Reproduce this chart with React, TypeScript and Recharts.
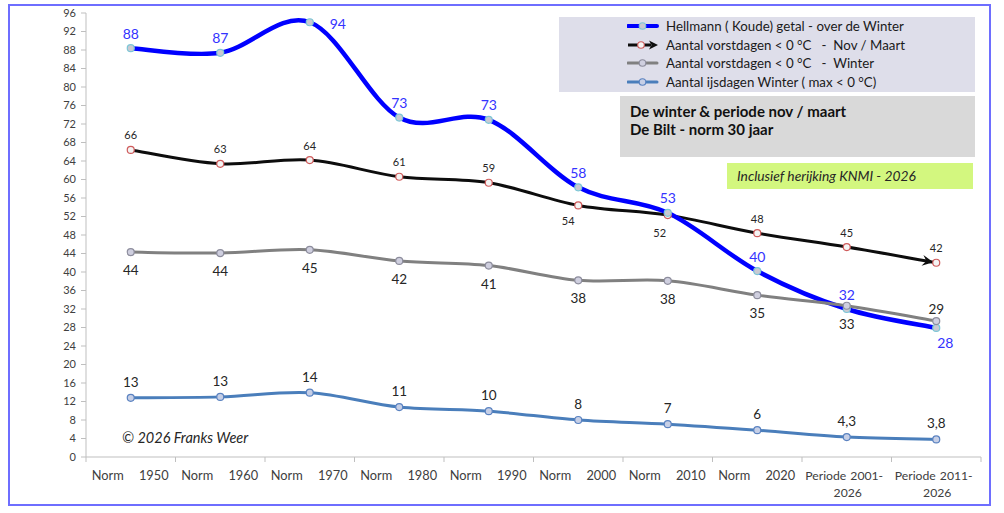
import React from "react";
import { LineChart, Line, XAxis, YAxis, LabelList } from "recharts";

// categorieën (normperiodes) en de vier reeksen
const categories = [
  "Norm 1950",
  "Norm 1960",
  "Norm 1970",
  "Norm 1980",
  "Norm 1990",
  "Norm 2000",
  "Norm 2010",
  "Norm 2020",
  "Periode 2001-2026",
  "Periode 2011-2026",
];
const hellmann = [88.4, 87.4, 94.0, 73.4, 72.9, 58.3, 52.8, 40.2, 32.0, 27.9];
const vorstNovMaart = [66.4, 63.4, 64.2, 60.6, 59.3, 54.4, 52.3, 48.4, 45.4, 42.0];
const vorstWinter = [44.3, 44.1, 44.8, 42.4, 41.4, 38.2, 38.1, 35.0, 32.7, 29.4];
const ijsdagen = [12.8, 13.0, 13.9, 10.8, 9.9, 8.0, 7.1, 5.8, 4.3, 3.8];
const yTicks = [0, 4, 8, 12, 16, 20, 24, 28, 32, 36, 40, 44, 48, 52, 56, 60, 64, 68, 72, 76, 80, 84, 88, 92, 96];

const legendItems = [
  { key: "hellmann", text: "Hellmann ( Koude) getal - over de Winter" },
  { key: "novMaart", text: "Aantal vorstdagen < 0 °C   -  Nov / Maart" },
  { key: "winter", text: "Aantal vorstdagen < 0 °C   -  Winter" },
  { key: "ijs", text: "Aantal ijsdagen Winter ( max < 0 °C)" },
];

const data = categories.map((cat, i) => ({
  cat,
  hellmann: hellmann[i],
  novMaart: vorstNovMaart[i],
  winter: vorstWinter[i],
  ijs: ijsdagen[i],
}));

// layout
const W = 1004;
const H = 513;
const MARGIN = { top: 13, right: 23, bottom: 6, left: 26 };
const YAXIS_W = 60;
const XAXIS_H = 50;
const PLOT_W = W - MARGIN.left - MARGIN.right - YAXIS_W;
const BAND = PLOT_W / categories.length;

const STYLE = {
  hellmann: { line: "#0000ff", width: 4.5, fill: "#c9c9d2", stroke: "#7cc6d6" },
  novMaart: { line: "#0d0d0d", width: 3, fill: "#f4f4f4", stroke: "#cf5b5b" },
  winter: { line: "#808080", width: 3, fill: "#cfcfdf", stroke: "#8d8d9d" },
  ijs: { line: "#4a7ebb", width: 3, fill: "#c6cfe6", stroke: "#5a82c0" },
} as const;

// Excel-achtige gladde lijn (Catmull-Rom als bezier)
function excelCurve(context: any) {
  let pts: [number, number][] = [];
  return {
    areaStart() {},
    areaEnd() {},
    lineStart() {
      pts = [];
    },
    point(x: number, y: number) {
      pts.push([+x, +y]);
    },
    lineEnd() {
      const n = pts.length;
      if (!n) return;
      context.moveTo(pts[0][0], pts[0][1]);
      const t = 1 / 6;
      for (let i = 0; i < n - 1; i++) {
        const p0 = pts[Math.max(i - 1, 0)];
        const p1 = pts[i];
        const p2 = pts[i + 1];
        const p3 = pts[Math.min(i + 2, n - 1)];
        context.bezierCurveTo(
          p1[0] + (p2[0] - p0[0]) * t,
          p1[1] + (p2[1] - p0[1]) * t,
          p2[0] - (p3[0] - p1[0]) * t,
          p2[1] - (p3[1] - p1[1]) * t,
          p2[0],
          p2[1]
        );
      }
    },
  };
}

function XTick(props: any) {
  const { x, y, payload, index } = props;
  const half = BAND / 2;
  const label = String(payload.value);
  const [word, rest] = label.split(" ");
  const txt = { fontSize: 12.8, fill: "#404040", textAnchor: "middle" as const };
  const small = { ...txt, fontSize: 12.2 };
  return (
    <g>
      <line x1={x - half} x2={x - half} y1={y} y2={y + 5} stroke="#bfbfbf" />
      {index === categories.length - 1 && (
        <line x1={x + half} x2={x + half} y1={y} y2={y + 5} stroke="#bfbfbf" />
      )}
      {word === "Norm" ? (
        <>
          <text x={x - 23} y={y + 23} {...txt}>{word}</text>
          <text x={x + 23} y={y + 23} {...txt}>{rest}</text>
        </>
      ) : (
        <>
          <text x={x - 21} y={y + 23} {...small}>{word}</text>
          <text x={x + 20} y={y + 23} {...small}>{rest.split("-")[0] + "-"}</text>
          <text x={x + 1} y={y + 40} {...small}>{rest.split("-")[1]}</text>
        </>
      )}
    </g>
  );
}

function makeLabel(
  color: string,
  size: number,
  offset: (i: number) => [number, number],
  fmt: (v: number) => string
) {
  return (props: any) => {
    const x = props.x ?? props.viewBox?.x;
    const y = props.y ?? props.viewBox?.y;
    const i = props.index ?? 0;
    const [dx, dy] = offset(i);
    return (
      <text
        x={x + dx}
        y={y + dy}
        textAnchor="middle"
        dominantBaseline="central"
        fill={color}
        fontSize={size}
      >
        {fmt(Number(props.value))}
      </text>
    );
  };
}

const round = (v: number) => String(Math.round(v));
const ijsFmt = (v: number) => (v < 5 ? v.toFixed(1).replace(".", ",") : String(Math.round(v)));

const hellmannOffset = (i: number): [number, number] =>
  i === 2 ? [28, 1] : i === 9 ? [9, 15] : [0, -15];
const novMaartOffset = (i: number): [number, number] =>
  i === 5 ? [-10, 15] : i === 6 ? [-8, 17] : [0, -15];
const winterOffset = (i: number): [number, number] => (i === 9 ? [0, -12] : [0, 18]);
const ijsOffset = (): [number, number] => [0, -16];

function dotStyle(s: { fill: string; stroke: string }) {
  return { r: 3.5, fill: s.fill, stroke: s.stroke, strokeWidth: 1.2 };
}

function ArrowDot(props: any) {
  const { cx, cy, index, points } = props;
  const s = STYLE.novMaart;
  const circle = (
    <circle cx={cx} cy={cy} r={3.5} fill={s.fill} stroke={s.stroke} strokeWidth={1.2} />
  );
  if (index !== vorstNovMaart.length - 1) return <g key={`nm-${index}`}>{circle}</g>;
  let ang = 0.185;
  if (points && points[index - 1]) {
    ang = Math.atan2(cy - points[index - 1].y, cx - points[index - 1].x);
  }
  const c = Math.cos(ang);
  const sn = Math.sin(ang);
  const tx = cx - 3 * c;
  const ty = cy - 3 * sn;
  const bx = tx - 11 * c;
  const by = ty - 11 * sn;
  const w = 5.5;
  const poly = `${tx},${ty} ${bx - w * sn},${by + w * c} ${tx - 7 * c},${ty - 7 * sn} ${bx + w * sn},${by - w * c}`;
  return (
    <g key={`nm-${index}`}>
      <polygon points={poly} fill={s.line} />
      {circle}
    </g>
  );
}

function LegendIcon({ k }: { k: string }) {
  const s = (STYLE as any)[k];
  if (k === "novMaart") {
    return (
      <svg width={32} height={10}>
        <line x1={1} x2={24} y1={5} y2={5} stroke={s.line} strokeWidth={3} />
        <polygon points="31,5 22,0.5 24.5,5 22,9.5" fill={s.line} />
        <circle cx={14} cy={5} r={3.3} fill={s.fill} stroke={s.stroke} strokeWidth={1.1} />
      </svg>
    );
  }
  return (
    <svg width={32} height={10}>
      <line x1={1} x2={30} y1={5} y2={5} stroke={s.line} strokeWidth={k === "hellmann" ? 4 : 3} strokeLinecap="round" />
      <circle cx={15.5} cy={5} r={3.3} fill={s.fill} stroke={s.stroke} strokeWidth={1.1} />
    </svg>
  );
}

export default function App() {
  return (
    <div
      style={{
        position: "absolute",
        left: 0,
        top: 0,
        width: W,
        height: H,
        fontFamily: "Lato, 'Open Sans', sans-serif",
        background: "#fff",
      }}
    >
      <div
        style={{
          position: "absolute",
          left: 8,
          top: 4,
          width: 983,
          height: 502,
          border: "2px solid #6e6eff",
          boxSizing: "border-box",
        }}
      />
      <LineChart width={W} height={H} data={data} margin={MARGIN}>
        <XAxis
          dataKey="cat"
          scale="band"
          height={XAXIS_H}
          interval={0}
          tickLine={false}
          tickSize={0}
          tickMargin={0}
          axisLine={{ stroke: "#bfbfbf" }}
          tick={<XTick />}
        />
        <YAxis
          width={YAXIS_W}
          domain={[0, 96]}
          ticks={yTicks}
          interval={0}
          tickSize={5}
          tickMargin={5}
          axisLine={{ stroke: "#bfbfbf" }}
          tickLine={{ stroke: "#bfbfbf" }}
          tick={{ fontSize: 11, fill: "#404040" }}
        />
        <Line
          dataKey="novMaart"
          type={excelCurve as any}
          stroke={STYLE.novMaart.line}
          strokeWidth={STYLE.novMaart.width}
          dot={(p: any) => <ArrowDot {...p} />}
          activeDot={false}
          isAnimationActive={false}
        >
          <LabelList dataKey="novMaart" content={makeLabel("#262626", 11, novMaartOffset, round)} />
        </Line>
        <Line
          dataKey="hellmann"
          type={excelCurve as any}
          stroke={STYLE.hellmann.line}
          strokeWidth={STYLE.hellmann.width}
          dot={dotStyle(STYLE.hellmann)}
          activeDot={false}
          isAnimationActive={false}
        >
          <LabelList dataKey="hellmann" content={makeLabel("#3333ff", 14, hellmannOffset, round)} />
        </Line>
        <Line
          dataKey="winter"
          type={excelCurve as any}
          stroke={STYLE.winter.line}
          strokeWidth={STYLE.winter.width}
          dot={dotStyle(STYLE.winter)}
          activeDot={false}
          isAnimationActive={false}
        >
          <LabelList dataKey="winter" content={makeLabel("#262626", 13.5, winterOffset, round)} />
        </Line>
        <Line
          dataKey="ijs"
          type={excelCurve as any}
          stroke={STYLE.ijs.line}
          strokeWidth={STYLE.ijs.width}
          dot={dotStyle(STYLE.ijs)}
          activeDot={false}
          isAnimationActive={false}
        >
          <LabelList dataKey="ijs" content={makeLabel("#262626", 13.5, ijsOffset, ijsFmt)} />
        </Line>
      </LineChart>

      {/* legenda */}
      <div
        style={{
          position: "absolute",
          left: 559,
          top: 17,
          width: 416,
          height: 75,
          background: "#dedeea",
        }}
      >
        {legendItems.map((it, i) => (
          <div
            key={it.key}
            style={{
              position: "absolute",
              left: 68,
              top: i * 18.7,
              height: 18,
              display: "flex",
              alignItems: "center",
            }}
          >
            <LegendIcon k={it.key} />
            <span
              style={{
                marginLeft: 7,
                fontSize: 13.3,
                color: "#1a1a1a",
                whiteSpace: "pre",
              }}
            >
              {it.text}
            </span>
          </div>
        ))}
      </div>

      {/* titel */}
      <div
        style={{
          position: "absolute",
          left: 620,
          top: 96,
          width: 355,
          height: 61,
          background: "#d9d9d9",
          boxSizing: "border-box",
          padding: "6px 0 0 10px",
          fontSize: 15,
          fontWeight: 700,
          lineHeight: "18px",
          color: "#111",
        }}
      >
        <div>De winter &amp; periode nov / maart</div>
        <div>De Bilt - norm 30 jaar</div>
      </div>

      <div
        style={{
          position: "absolute",
          left: 727,
          top: 163,
          width: 246,
          height: 26,
          background: "#d3f77f",
          boxSizing: "border-box",
          paddingLeft: 10,
          fontSize: 13.8,
          fontStyle: "italic",
          lineHeight: "26px",
          color: "#262626",
        }}
      >
        Inclusief herijking KNMI - 2026
      </div>

      <div
        style={{
          position: "absolute",
          left: 122,
          top: 429,
          fontSize: 14.5,
          fontStyle: "italic",
          lineHeight: "18px",
          color: "#262626",
        }}
      >
        © 2026 Franks Weer
      </div>
    </div>
  );
}
